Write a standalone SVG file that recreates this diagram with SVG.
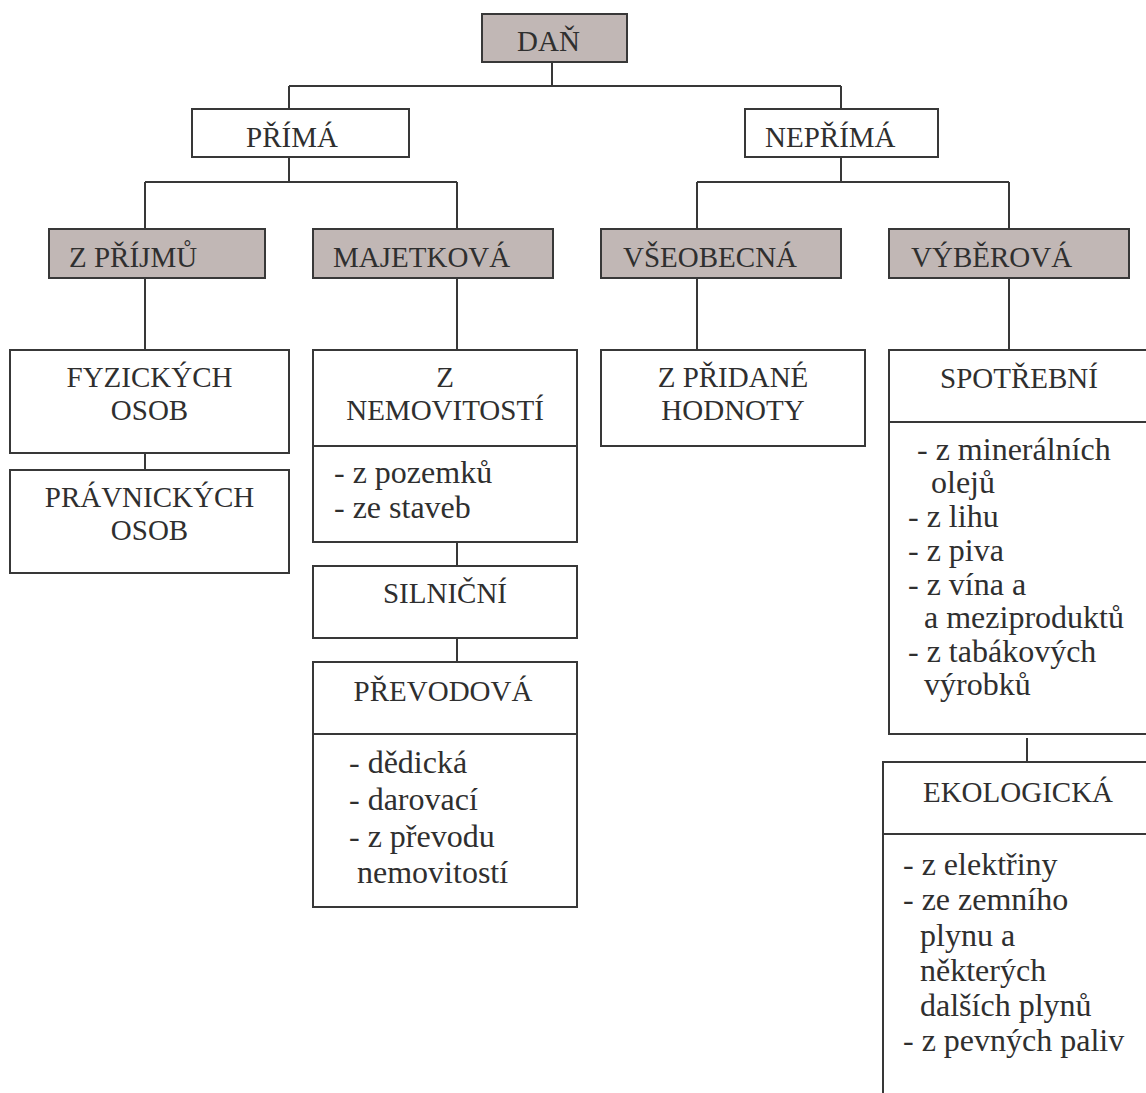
<svg xmlns="http://www.w3.org/2000/svg" width="1146" height="1093" viewBox="0 0 1146 1093" font-family="'Liberation Serif', 'Times New Roman', serif">
  <style>
    .box { fill: #ffffff; stroke: #383838; stroke-width: 2; }
    .hl { fill: #c1b7b5; }
    .sep { stroke: #383838; stroke-width: 2; fill: none; }
    .wire { stroke: #383838; stroke-width: 2; fill: none; }
    text { font-family: 'Liberation Serif', 'Times New Roman', serif; fill: #2f2f2f; }
    .t { font-size: 29px; }
    .c { text-anchor: middle; }
    .li { font-size: 32px; }
  </style>
  <rect width="1146" height="1093" fill="#ffffff"/>

  <!-- connectors -->
  <g id="connectors">
    <path class="wire" d="M552 62 V86 M289 86 H841 M289 86 V109 M841 86 V109"/>
    <path class="wire" d="M289 157 V182 M145 182 H457 M145 182 V229 M457 182 V229"/>
    <path class="wire" d="M841 157 V182 M697 182 H1009 M697 182 V229 M1009 182 V229"/>
    <path class="wire" d="M145 278 V350 M457 278 V350 M697 278 V350 M1009 278 V350"/>
    <path class="wire" d="M145 446 V470 M457 542 V566 M457 638 V662 M1027 738 V762"/>
  </g>

  <!-- level 0 -->
  <g id="dan">
    <rect class="box hl" x="482" y="14" width="145" height="48"/>
    <text class="t" x="517" y="51">DAŇ</text>
  </g>

  <!-- level 1 -->
  <g id="prima">
    <rect class="box" x="192" y="109" width="217" height="48"/>
    <text class="t" x="246" y="147">PŘÍMÁ</text>
  </g>
  <g id="neprima">
    <rect class="box" x="745" y="109" width="193" height="48"/>
    <text class="t" x="765" y="147">NEPŘÍMÁ</text>
  </g>

  <!-- level 2 -->
  <g id="z-prijmu">
    <rect class="box hl" x="49" y="229" width="216" height="49"/>
    <text class="t" x="69" y="267">Z PŘÍJMŮ</text>
  </g>
  <g id="majetkova">
    <rect class="box hl" x="313" y="229" width="240" height="49"/>
    <text class="t" x="333" y="267">MAJETKOVÁ</text>
  </g>
  <g id="vseobecna">
    <rect class="box hl" x="601" y="229" width="240" height="49"/>
    <text class="t" x="623" y="267">VŠEOBECNÁ</text>
  </g>
  <g id="vyberova">
    <rect class="box hl" x="889" y="229" width="240" height="49"/>
    <text class="t" x="911" y="267">VÝBĚROVÁ</text>
  </g>

  <!-- income taxes -->
  <g id="fyzickych-osob">
    <rect class="box" x="10" y="350" width="279" height="103"/>
    <text class="t c" x="149.5" y="387">FYZICKÝCH</text>
    <text class="t c" x="149.5" y="420">OSOB</text>
  </g>
  <g id="pravnickych-osob">
    <rect class="box" x="10" y="470" width="279" height="103"/>
    <text class="t c" x="149.5" y="507">PRÁVNICKÝCH</text>
    <text class="t c" x="149.5" y="540">OSOB</text>
  </g>

  <!-- property taxes -->
  <g id="z-nemovitosti">
    <rect class="box" x="313" y="350" width="264" height="192"/>
    <line class="sep" x1="313" y1="446" x2="577" y2="446"/>
    <text class="t c" x="445" y="387">Z</text>
    <text class="t c" x="445" y="420">NEMOVITOSTÍ</text>
    <text class="li" x="334" y="483">- z pozemků</text>
    <text class="li" x="334" y="518">- ze staveb</text>
  </g>
  <g id="silnicni">
    <rect class="box" x="313" y="566" width="264" height="72"/>
    <text class="t c" x="445" y="603">SILNIČNÍ</text>
  </g>
  <g id="prevodova">
    <rect class="box" x="313" y="662" width="264" height="245"/>
    <line class="sep" x1="313" y1="734" x2="577" y2="734"/>
    <text class="t c" x="443" y="701">PŘEVODOVÁ</text>
    <text class="li" x="349" y="773">- dědická</text>
    <text class="li" x="349" y="810">- darovací</text>
    <text class="li" x="349" y="847">- z převodu</text>
    <text class="li" x="357" y="883">nemovitostí</text>
  </g>

  <!-- general indirect tax -->
  <g id="z-pridane-hodnoty">
    <rect class="box" x="601" y="350" width="264" height="96"/>
    <text class="t c" x="733" y="387">Z PŘIDANÉ</text>
    <text class="t c" x="733" y="420">HODNOTY</text>
  </g>

  <!-- selective indirect taxes -->
  <g id="spotrebni">
    <rect class="box" x="889" y="350" width="262" height="384"/>
    <line class="sep" x1="889" y1="422" x2="1151" y2="422"/>
    <text class="t c" x="1019" y="388">SPOTŘEBNÍ</text>
    <text class="li" x="917" y="460">- z minerálních</text>
    <text class="li" x="931" y="493">olejů</text>
    <text class="li" x="908" y="527">- z lihu</text>
    <text class="li" x="908" y="561">- z piva</text>
    <text class="li" x="908" y="595">- z vína a</text>
    <text class="li" x="924" y="628">a meziproduktů</text>
    <text class="li" x="908" y="662">- z tabákových</text>
    <text class="li" x="924" y="695">výrobků</text>
  </g>
  <g id="ekologicka">
    <rect class="box" x="883" y="762" width="270" height="360"/>
    <line class="sep" x1="883" y1="834" x2="1153" y2="834"/>
    <text class="t c" x="1018" y="802">EKOLOGICKÁ</text>
    <text class="li" x="903" y="875">- z elektřiny</text>
    <text class="li" x="903" y="910">- ze zemního</text>
    <text class="li" x="920" y="946">plynu a</text>
    <text class="li" x="920" y="981">některých</text>
    <text class="li" x="920" y="1016">dalších plynů</text>
    <text class="li" x="903" y="1051">- z pevných paliv</text>
  </g>
</svg>
